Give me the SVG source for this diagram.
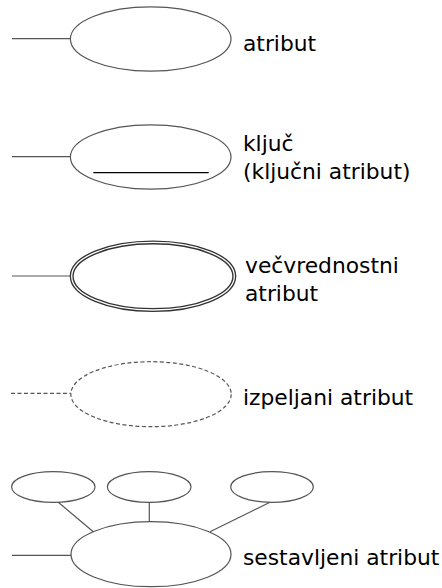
<svg xmlns="http://www.w3.org/2000/svg" width="442" height="588" viewBox="0 0 442 588">
  <style>
    .shape { fill: #ffffff; stroke: #555555; stroke-width: 1.2; }
    .dashed { stroke-dasharray: 4 2.5; }
    .edge { fill: none; stroke: #555555; stroke-width: 1.2; }
    .label { font-family: "DejaVu Sans", Verdana, sans-serif; font-size: 21.8px; fill: #000000; }
  </style>
  <rect width="442" height="588" fill="#ffffff"/>

  <!-- connectors -->
  <g id="connectors">
    <line class="edge" x1="12" y1="38.7" x2="70.5" y2="38.7"/>
    <line class="edge" x1="12" y1="156.7" x2="70.5" y2="156.7"/>
    <line class="edge" x1="12" y1="276" x2="72" y2="276"/>
    <line class="edge dashed" x1="11" y1="393.3" x2="71" y2="393.3"/>
    <line class="edge" x1="12" y1="555.3" x2="71.5" y2="555.3"/>
    <line class="edge" x1="58.3" y1="502.3" x2="93.3" y2="531.7"/>
    <line class="edge" x1="149.3" y1="502.3" x2="149.3" y2="521.7"/>
    <line class="edge" x1="270" y1="502.3" x2="210" y2="531.7"/>
  </g>

  <!-- simple attribute -->
  <g id="attribute">
    <ellipse class="shape" cx="150.7" cy="39" rx="80.3" ry="32.2"/>
    <text class="label" x="243" y="50.7">atribut</text>
  </g>

  <!-- key attribute -->
  <g id="key-attribute">
    <ellipse class="shape" cx="150.7" cy="157" rx="80.3" ry="32.2"/>
    <line x1="93.3" y1="172.7" x2="208.7" y2="172.7" stroke="#000000" stroke-width="1.2"/>
    <text class="label" x="243" y="150.7">ključ</text>
    <text class="label" x="243" y="179.3">(ključni atribut)</text>
  </g>

  <!-- multivalued attribute: double outline -->
  <g id="multivalued-attribute">
    <ellipse cx="153" cy="276.2" rx="81.3" ry="33.8" fill="#ffffff" stroke="#333333" stroke-width="4"/>
    <ellipse cx="153" cy="276.2" rx="81.3" ry="33.8" fill="none" stroke="#ffffff" stroke-width="1.3"/>
    <text class="label" x="245" y="272.7">večvrednostni</text>
    <text class="label" x="245" y="301.3">atribut</text>
  </g>

  <!-- derived attribute -->
  <g id="derived-attribute">
    <ellipse class="shape dashed" cx="151" cy="394.2" rx="80.2" ry="32.5"/>
    <text class="label" x="243" y="405">izpeljani atribut</text>
  </g>

  <!-- composite attribute and its parts -->
  <g id="composite-attribute">
    <ellipse class="shape" cx="151" cy="554.2" rx="80" ry="32.5"/>
    <text class="label" x="243" y="565">sestavljeni atribut</text>
  </g>
  <g id="part-1">
    <ellipse class="shape" cx="53.3" cy="487" rx="41.7" ry="15.3"/>
  </g>
  <g id="part-2">
    <ellipse class="shape" cx="149.2" cy="487" rx="41.8" ry="15.3"/>
  </g>
  <g id="part-3">
    <ellipse class="shape" cx="272" cy="487" rx="41.3" ry="15.3"/>
  </g>
</svg>
